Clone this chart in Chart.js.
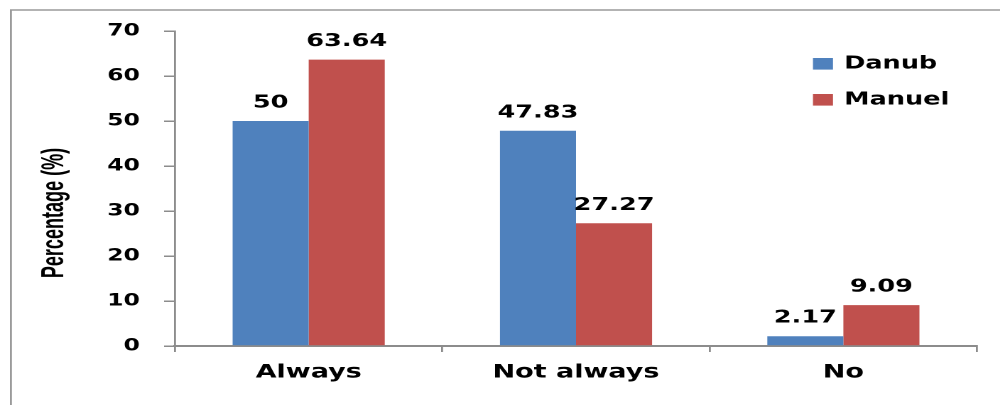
<!DOCTYPE html>
<html>
<head>
<meta charset="utf-8">
<script src="https://cdn.jsdelivr.net/npm/chart.js@4"></script>
<style>
  html, body { margin: 0; padding: 0; background: #fff; overflow: hidden; }
  /* chart is laid out narrow and widened sideways, so the lettering comes out broad */
  #wrap { width: 704px; height: 405px; transform: scaleX(1.4205); transform-origin: 0 0; }
</style>
</head>
<body>
<div id="wrap"><canvas id="chart"></canvas></div>
<script>
const categories = ['Always', 'Not always', 'No'];
const seriesNames = ['Danub', 'Manuel'];
const danubValues = [50, 47.83, 2.17];
const manuelValues = [63.64, 27.27, 9.09];
const yTicks = [0, 10, 20, 30, 40, 50, 60, 70];
const seriesColors = ['#4f81bd', '#c0504d'];
const axisTitle = 'Percentage (%)';

const axisGrey = '#8c8c8c';
const boldFont = (size) => ({ family: "'DejaVu Sans', Verdana, sans-serif", size: size, weight: 'bold' });

// thin grey frame along the left and top edge
const framePlugin = {
  id: 'frame',
  beforeDraw: (chart) => {
    const ctx = chart.ctx;
    ctx.save();
    ctx.strokeStyle = '#9a9a9a';
    ctx.lineWidth = 1.4;
    ctx.beginPath();
    ctx.moveTo(7.7, 405);
    ctx.lineTo(7.7, 10);
    ctx.lineTo(chart.width, 10);
    ctx.stroke();
    ctx.restore();
  }
};

// value printed above every bar
const valueLabels = {
  id: 'valueLabels',
  afterDatasetsDraw: (chart) => {
    const ctx = chart.ctx;
    ctx.save();
    ctx.font = "bold 18px 'DejaVu Sans', Verdana, sans-serif";
    ctx.fillStyle = '#000';
    ctx.textAlign = 'center';
    ctx.textBaseline = 'alphabetic';
    chart.data.datasets.forEach((ds, i) => {
      chart.getDatasetMeta(i).data.forEach((bar, j) => {
        ctx.fillText(String(ds.data[j]), bar.x, bar.y - 13.5);
      });
    });
    ctx.restore();
  }
};

// legend boxes in the upper right corner of the plot
const sideLegend = {
  id: 'sideLegend',
  afterDraw: (chart) => {
    const ctx = chart.ctx;
    const rows = [63.8, 99.8];
    ctx.save();
    ctx.font = "bold 18px 'DejaVu Sans', Verdana, sans-serif";
    ctx.textBaseline = 'middle';
    ctx.textAlign = 'left';
    chart.data.datasets.forEach((ds, i) => {
      ctx.fillStyle = ds.backgroundColor;
      ctx.fillRect(572.3, rows[i] - 5.8, 14.1, 11.6);
      ctx.fillStyle = '#000';
      ctx.fillText(ds.label, 594.2, rows[i]);
    });
    ctx.restore();
  }
};

// rotated y axis title, squeezed along its length to look condensed
const yTitle = {
  id: 'yTitle',
  afterDraw: (chart) => {
    const ctx = chart.ctx;
    ctx.save();
    ctx.translate(38.5, 213);
    ctx.rotate(-Math.PI / 2);
    ctx.scale(0.82, 1);
    ctx.font = "bold 22px 'Liberation Sans', Arial, sans-serif";
    ctx.fillStyle = '#000';
    ctx.textAlign = 'center';
    ctx.textBaseline = 'middle';
    ctx.fillText(axisTitle, 0, 0);
    ctx.restore();
  }
};

const ctx = document.getElementById('chart').getContext('2d');
new Chart(ctx, {
  type: 'bar',
  data: {
    labels: categories,
    datasets: [
      { label: seriesNames[0], data: danubValues, backgroundColor: seriesColors[0] },
      { label: seriesNames[1], data: manuelValues, backgroundColor: seriesColors[1] }
    ]
  },
  options: {
    responsive: true,
    maintainAspectRatio: false,
    devicePixelRatio: 2,
    animation: false,
    layout: { padding: { left: 0, top: 31, right: 16.2, bottom: 0 } },
    datasets: {
      bar: { categoryPercentage: 0.569, barPercentage: 1 }
    },
    plugins: {
      legend: { display: false },
      tooltip: { enabled: false }
    },
    scales: {
      x: {
        afterFit: (scale) => { scale.height = 59; },
        grid: { offset: true, drawOnChartArea: false, color: axisGrey, lineWidth: 1.4, tickLength: 6 },
        border: { color: axisGrey, width: 2 },
        ticks: { color: '#000', font: boldFont(19), padding: 9 }
      },
      y: {
        min: yTicks[0],
        max: yTicks[yTicks.length - 1],
        afterBuildTicks: (scale) => { scale.ticks = yTicks.map(v => ({ value: v })); },
        afterFit: (scale) => { scale.width = 123.2; },
        grid: { drawOnChartArea: false, color: axisGrey, lineWidth: 1.5, tickLength: 7.7 },
        border: { color: axisGrey, width: 1.4 },
        ticks: { color: '#000', font: boldFont(16.5), padding: 17 }
      }
    }
  },
  plugins: [framePlugin, valueLabels, sideLegend, yTitle]
});
</script>
</body>
</html>
